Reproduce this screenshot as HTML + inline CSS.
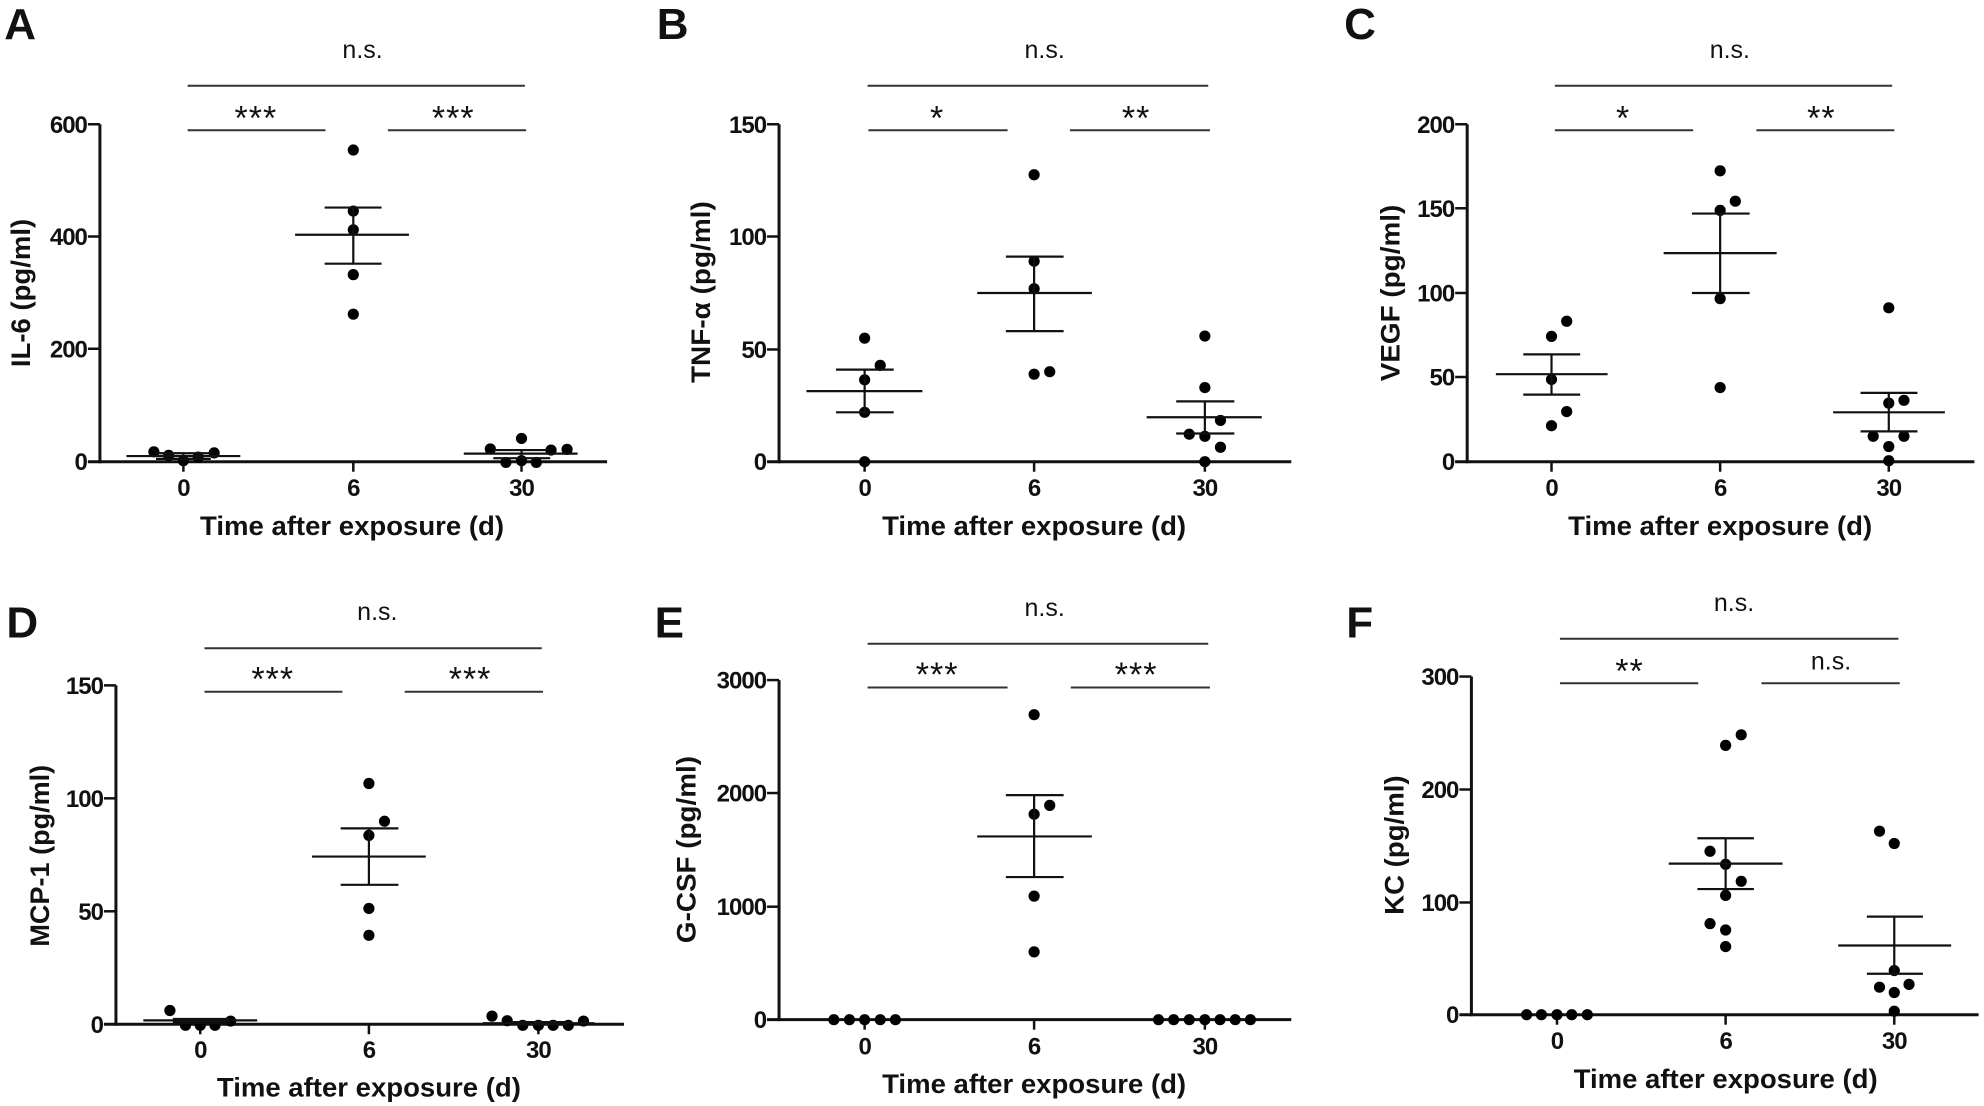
<!DOCTYPE html>
<html><head><meta charset="utf-8">
<style>
html,body{margin:0;padding:0;background:#fff;}
svg{display:block;}
text{font-family:"Liberation Sans",Arial,sans-serif;fill:#111;}
</style></head>
<body>
<svg id="s" xmlns="http://www.w3.org/2000/svg" width="1984" height="1106" viewBox="0 0 1984 1106"></svg>
<script>
const S=document.getElementById('s');const NS='http://www.w3.org/2000/svg';
const KX=0.4216,KY=0.353;
function el(t,a,txt){const e=document.createElementNS(NS,t);for(const k in a)e.setAttribute(k,a[k]);if(txt!==undefined)e.textContent=txt;S.appendChild(e);return e;}
const P=[
{x0:0,y0:0,L:'A',lx:10,lb:110,ax:237,yt:[[600,352],[400,670],[200,988],[0,1308]],y0z:1308,xt:[435,838,1237],xe:1440,
 ns:[860,165],top:[243,445,1245],st:[['***',607,335],['***',1075,335]],low:[369,445,772,920,1248],
 yl:'IL-6 (pg/ml)',ylx:50,yls:[620,1040],xtb:1405,tb:1515,tc:835,
 g:[{m:[1292,300,570],s:[1284,1300,370,500],c:435,p:[[365,1280],[400,1290],[435,1305],[470,1295],[508,1283]]},
    {m:[665,700,970],s:[588,747,770,905],c:838,p:[[838,425],[838,598],[838,651],[838,778],[838,890]]},
    {m:[1285,1100,1370],s:[1275,1298,1170,1305],c:1237,p:[[1163,1272],[1200,1310],[1237,1242],[1237,1305],[1272,1310],[1307,1275],[1345,1273]]}]},
{x0:661,y0:0,L:'B',lx:-10,lb:110,ax:280,yt:[[150,352],[100,670],[50,990],[0,1308]],y0z:1308,xt:[483,885,1290],xe:1495,
 ns:[910,165],top:[243,490,1298],st:[['*',655,335],['**',1127,335]],low:[369,492,822,970,1302],
 yl:'TNF-α (pg/ml)',ylx:95,yls:[570,1085],xtb:1405,tb:1515,tc:885,
 g:[{m:[1108,345,620],s:[1047,1168,415,552],c:483,p:[[483,958],[520,1035],[483,1076],[483,1168],[483,1308]]},
    {m:[830,750,1022],s:[727,938,818,955],c:885,p:[[885,495],[885,740],[885,818],[885,1060],[922,1053]]},
    {m:[1182,1152,1425],s:[1137,1228,1222,1360],c:1290,p:[[1290,952],[1290,1098],[1327,1191],[1253,1230],[1290,1236],[1327,1267],[1290,1308]]}]},
{x0:1323,y0:0,L:'C',lx:50,lb:110,ax:342,yt:[[200,352],[150,590],[100,830],[50,1068],[0,1308]],y0z:1308,xt:[542,942,1342],xe:1545,
 ns:[965,165],top:[243,550,1350],st:[['*',712,335],['**',1182,335]],low:[369,550,878,1028,1355],
 yl:'VEGF (pg/ml)',ylx:160,yls:[580,1080],xtb:1405,tb:1515,tc:942,
 g:[{m:[1060,410,675],s:[1004,1118,475,610],c:542,p:[[542,953],[578,910],[542,1075],[578,1166],[542,1206]]},
    {m:[717,808,1076],s:[605,830,875,1012],c:942,p:[[942,484],[978,570],[942,596],[942,846],[942,1098]]},
    {m:[1168,1210,1475],s:[1113,1222,1275,1410],c:1342,p:[[1342,872],[1342,1142],[1378,1134],[1305,1236],[1378,1236],[1342,1265],[1342,1305]]}]},
{x0:0,y0:553,L:'D',lx:15,lb:240,ax:275,yt:[[150,375],[100,695],[50,1015],[0,1335]],y0z:1335,xt:[475,875,1277],xe:1480,
 ns:[895,190],top:[270,485,1285],st:[['***',647,358],['***',1115,358]],low:[393,485,812,960,1288],
 yl:'MCP-1 (pg/ml)',ylx:95,yls:[600,1115],xtb:1430,tb:1540,tc:875,
 g:[{m:[1324,340,610],s:[1320,1330,410,545],c:475,p:[[403,1296],[440,1338],[475,1338],[510,1338],[547,1326]]},
    {m:[860,740,1010],s:[780,940,808,945],c:875,p:[[875,653],[912,760],[875,800],[875,1007],[875,1083]]},
    {m:[1332,1145,1410],s:[1329,1335,1210,1345],c:1277,p:[[1167,1312],[1203,1325],[1240,1338],[1277,1338],[1312,1338],[1348,1338],[1384,1326]]}]},
{x0:661,y0:553,L:'E',lx:-15,lb:240,ax:280,yt:[[3000,360],[2000,680],[1000,1002],[0,1322]],y0z:1322,xt:[483,885,1290],xe:1495,
 ns:[910,178],top:[257,490,1298],st:[['***',655,345],['***',1127,345]],low:[381,490,822,972,1302],
 yl:'G-CSF (pg/ml)',ylx:60,yls:[575,1105],xtb:1420,tb:1530,tc:885,
 g:[{m:null,c:483,p:[[410,1322],[447,1322],[483,1322],[520,1322],[556,1322]]},
    {m:[803,750,1022],s:[686,918,818,955],c:885,p:[[885,458],[922,715],[885,740],[885,972],[885,1130]]},
    {m:null,c:1290,p:[[1180,1322],[1216,1322],[1253,1322],[1290,1322],[1326,1322],[1362,1322],[1398,1322]]}]},
{x0:1323,y0:553,L:'F',lx:55,lb:240,ax:352,yt:[[300,350],[200,670],[100,990],[0,1308]],y0z:1308,xt:[555,955,1355],xe:1555,
 ns:[975,165],top:[243,562,1365],st:[['**',727,335]],low:[369,562,890,1040,1368],ns2:[1205,330],
 yl:'KC (pg/ml)',ylx:170,yls:[630,1025],xtb:1405,tb:1515,tc:955,
 g:[{m:null,c:555,p:[[483,1308],[518,1308],[555,1308],[590,1308],[627,1308]]},
    {m:[880,820,1090],s:[808,952,888,1022],c:955,p:[[955,545],[992,515],[918,845],[955,882],[992,930],[955,970],[918,1050],[955,1068],[955,1115]]},
    {m:[1112,1222,1490],s:[1030,1192,1290,1423],c:1355,p:[[1320,788],[1355,823],[1355,1183],[1320,1230],[1390,1222],[1355,1245],[1355,1298]]}]}
];
function line(x1,y1,x2,y2,w,c){el('line',{x1:x1,y1:y1,x2:x2,y2:y2,stroke:c||'#111','stroke-width':w});}
for(const p of P){
 const X=z=>p.x0+z*KX, Y=z=>p.y0+z*KY;
 el('text',{x:X(p.lx),y:Y(p.lb),'font-size':44,'font-weight':'bold'},p.L);
 // axes
 line(X(p.ax),Y(p.yt[0][1]),X(p.ax),Y(p.y0z)+1.5,3);
 line(X(p.ax)-12,Y(p.y0z),X(p.xe),Y(p.y0z),3);
 for(const [v,yz] of p.yt){line(X(p.ax)-12,Y(yz),X(p.ax),Y(yz),2.5);
  el('text',{x:X(p.ax)-13,y:Y(yz)+8.5,'font-size':24,'font-weight':'bold','text-anchor':'end','letter-spacing':'-1'},String(v));}
 const xl=['0','6','30'];
 p.xt.forEach((xz,i)=>{line(X(xz),Y(p.y0z),X(xz),Y(p.y0z)+10,2.5);
  el('text',{x:X(xz),y:Y(p.xtb),'font-size':24,'font-weight':'bold','text-anchor':'middle','letter-spacing':'-1'},xl[i]);});
 el('text',{x:X(p.tc),y:Y(p.tb),'font-size':27,'font-weight':'bold','text-anchor':'middle',textLength:304,lengthAdjust:'spacingAndGlyphs'},'Time after exposure (d)');
 const yc=Y((p.yls[0]+p.yls[1])/2), xc=X(p.ylx)+9;
 el('text',{x:xc,y:yc,'font-size':27,'font-weight':'bold','text-anchor':'middle',transform:`rotate(-90 ${xc} ${yc})`,textLength:(p.yls[1]-p.yls[0])*KY,lengthAdjust:'spacingAndGlyphs'},p.yl);
 // significance
 el('text',{x:X(p.ns[0]),y:Y(p.ns[1]),'font-size':25,'text-anchor':'middle',fill:'#333'},'n.s.');
 line(X(p.top[1]),Y(p.top[0]),X(p.top[2]),Y(p.top[0]),2,'#333');
 line(X(p.low[1]),Y(p.low[0]),X(p.low[2]),Y(p.low[0]),2,'#333');
 line(X(p.low[3]),Y(p.low[0]),X(p.low[4]),Y(p.low[0]),2,'#333');
 for(const [t,cx,b] of p.st) el('text',{x:X(cx),y:Y(b)+11,'font-size':34,'text-anchor':'middle',fill:'#333','letter-spacing':'1'},t);
 if(p.ns2) el('text',{x:X(p.ns2[0]),y:Y(p.ns2[1]),'font-size':25,'text-anchor':'middle',fill:'#333'},'n.s.');
 // groups
 for(const g of p.g){
  for(const [a,b] of g.p) el('circle',{cx:X(a),cy:Y(b),r:5.6,fill:'#000'});
  if(g.m){
   line(X(g.m[1]),Y(g.m[0]),X(g.m[2]),Y(g.m[0]),2.2);
   line(X(g.c),Y(g.s[0]),X(g.c),Y(g.s[1]),2.2);
   line(X(g.s[2]),Y(g.s[0]),X(g.s[3]),Y(g.s[0]),2.2);
   line(X(g.s[2]),Y(g.s[1]),X(g.s[3]),Y(g.s[1]),2.2);
  }
 }
}
</script>
</body></html>
